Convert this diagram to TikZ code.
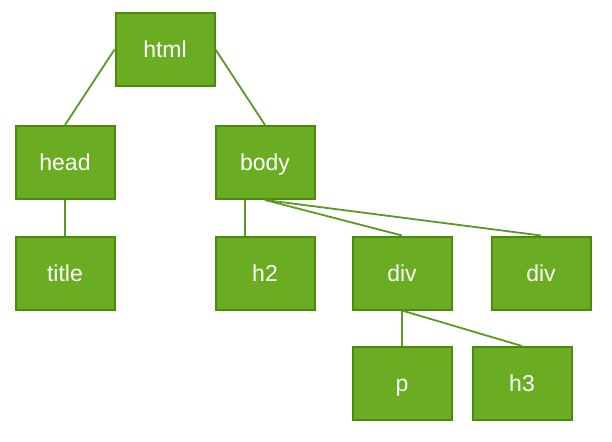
\documentclass[tikz,border=0pt]{standalone}
\usepackage{fontspec}
\setmainfont{Liberation Sans}
\definecolor{leaf}{RGB}{107,173,34}
\definecolor{leafdark}{RGB}{74,138,12}
\definecolor{twig}{RGB}{92,152,38}

\begin{document}
\begin{tikzpicture}[x=1pt,y=-1pt,box/.style={draw=leafdark,fill=leaf,line width=2pt,
    minimum width=99pt,minimum height=73pt,text=white,text height=18pt,
    text depth=2pt,font=\fontsize{23}{26}\selectfont},
    arj/.style={twig,line width=1.8pt}]
  \useasboundingbox (0,0) rectangle (612,441);
  \node[box] (html) at (165,49.5) {html};
  \node[box] (head) at (65,162.5) {head};
  \node[box] (body) at (265,162.5) {body};
  \node[box] (title) at (65,273) {title};
  \node[box] (h2) at (265,273) {h2};
  \node[box] (divA) at (402,273) {div};
  \node[box] (divB) at (541,273) {div};
  \node[box] (p) at (402,383.5) {p};
  \node[box] (h3) at (522,383.5) {h3};
  \draw[arj] (html.west) -- (head.north);
  \draw[arj] (html.east) -- (body.north);
  \draw[arj] (head.south) -- (title.north);
  \draw[arj] ([xshift=-20pt]body.south) -- ([xshift=-20pt]h2.north);
  \draw[arj] (body.south) -- (divA.north);
  \draw[arj] (body.south) -- (divB.north);
  \draw[arj] (divA.south) -- (p.north);
  \draw[arj] (divA.south) -- (h3.north);
\end{tikzpicture}
\end{document}
